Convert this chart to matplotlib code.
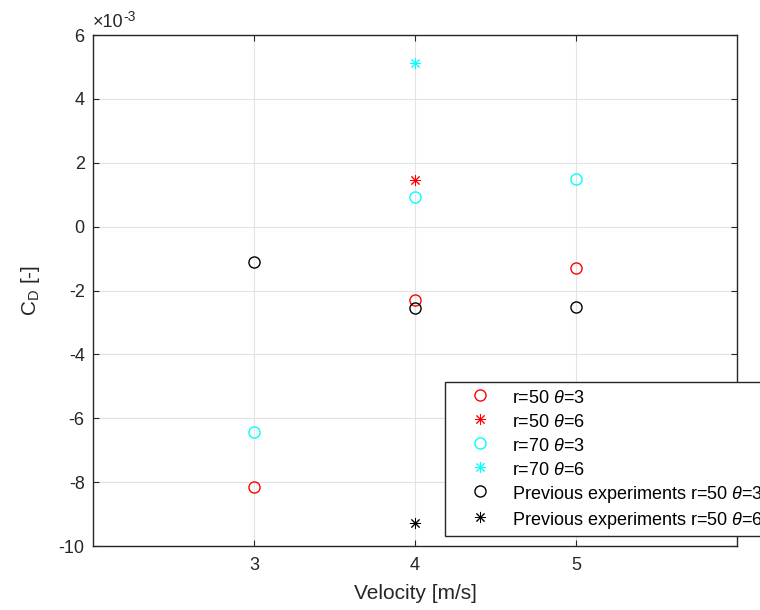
import matplotlib
matplotlib.use("Agg")
import matplotlib.pyplot as plt
from matplotlib.ticker import FuncFormatter, MultipleLocator
from matplotlib.transforms import offset_copy

plt.rcParams["font.family"] = ["Liberation Sans", "DejaVu Sans"]
plt.rcParams["axes.unicode_minus"] = False
plt.rcParams["mathtext.fontset"] = "custom"
plt.rcParams["mathtext.rm"] = "Liberation Sans"
plt.rcParams["mathtext.it"] = "Liberation Sans:italic"
plt.rcParams["mathtext.default"] = "regular"

# Drag coefficient measurements
vel_r50_t3 = [3, 4, 5]
cd_r50_t3 = [-8.15e-3, -2.30e-3, -1.29e-3]

vel_r50_t6 = [4]
cd_r50_t6 = [1.46e-3]

vel_r70_t3 = [3, 4, 5]
cd_r70_t3 = [-6.43e-3, 0.93e-3, 1.49e-3]

vel_r70_t6 = [4]
cd_r70_t6 = [5.12e-3]

vel_prev_t3 = [3, 4, 5]
cd_prev_t3 = [-1.11e-3, -2.55e-3, -2.52e-3]

vel_prev_t6 = [4]
cd_prev_t6 = [-9.28e-3]

labels = [r"r=50 $\it{\theta}$=3", r"r=50 $\it{\theta}$=6",
          r"r=70 $\it{\theta}$=3", r"r=70 $\it{\theta}$=6",
          r"Previous experiments r=50 $\it{\theta}$=3",
          r"Previous experiments r=50 $\it{\theta}$=6"]

fig = plt.figure(figsize=(7.6, 6.1), dpi=100)
ax = fig.add_axes([0.1224, 0.1049, 0.8474, 0.8377])

ring = dict(marker="o", markersize=8, markerfacecolor="none",
            markeredgewidth=1.0, linestyle="none")
star = dict(marker=(8, 2, 0), markersize=8, markeredgewidth=0.7,
            linestyle="none")

ax.plot(vel_r50_t3, cd_r50_t3, color="#ff0000", label=labels[0], **ring)
ax.plot(vel_r50_t6, cd_r50_t6, color="#ff0000", label=labels[1], **star)
ax.plot(vel_r70_t3, cd_r70_t3, color="#00ffff", label=labels[2], **ring)
ax.plot(vel_r70_t6, cd_r70_t6, color="#00ffff", label=labels[3], **star)
ax.plot(vel_prev_t3, cd_prev_t3, color="black", label=labels[4], **ring)
ax.plot(vel_prev_t6, cd_prev_t6, color="black", label=labels[5], **star)

ax.set_xlim(2, 6)
ax.set_ylim(-10e-3, 6e-3)
ax.set_xticks([3, 4, 5])
ax.yaxis.set_major_locator(MultipleLocator(2e-3))

# y ticks shown in units of 1e-3, exponent written above the axis
ax.yaxis.set_major_formatter(FuncFormatter(lambda v, _: f"{round(v * 1e3):d}"))

edge = "#262626"
base = ax.text(0.0, 1.008, "\u00d710", transform=ax.transAxes, fontsize=13,
               color=edge, ha="left", va="bottom")
fig.canvas.draw()
bb = base.get_window_extent()
exp_tr = offset_copy(ax.transAxes, fig=fig, x=bb.width, y=7, units="dots")
ax.text(0.0, 1.008, "-3", transform=exp_tr, fontsize=10, color=edge,
        ha="left", va="bottom")

for s in ax.spines.values():
    s.set_color(edge)
    s.set_linewidth(1.0)

ax.grid(True, color="#e3e3e3", linewidth=0.8)
ax.set_axisbelow(True)
ax.tick_params(direction="in", length=4.5, width=0.8, color=edge,
               labelcolor=edge, labelsize=13, top=True, right=True)
ax.tick_params(axis="x", pad=8)
ax.tick_params(axis="y", pad=6)

ax.set_xlabel("Velocity [m/s]", fontsize=15, color=edge, labelpad=7)
ax.set_ylabel(r"$\mathrm{C_D}$ [-]", fontsize=15, color=edge, labelpad=12)

# Legend sits partly outside the figure on the right, as in the saved plot
leg = fig.legend(loc="upper left", bbox_to_anchor=(0.5855, 0.3738),
                 bbox_transform=fig.transFigure, borderaxespad=0,
                 fontsize=13, handlelength=3.33, handletextpad=0.1,
                 handleheight=1.246, labelspacing=0.25, borderpad=0.28,
                 fancybox=False, framealpha=1, edgecolor=edge)
leg.get_frame().set_linewidth(1.0)

fig.savefig("out.png", dpi=100)
